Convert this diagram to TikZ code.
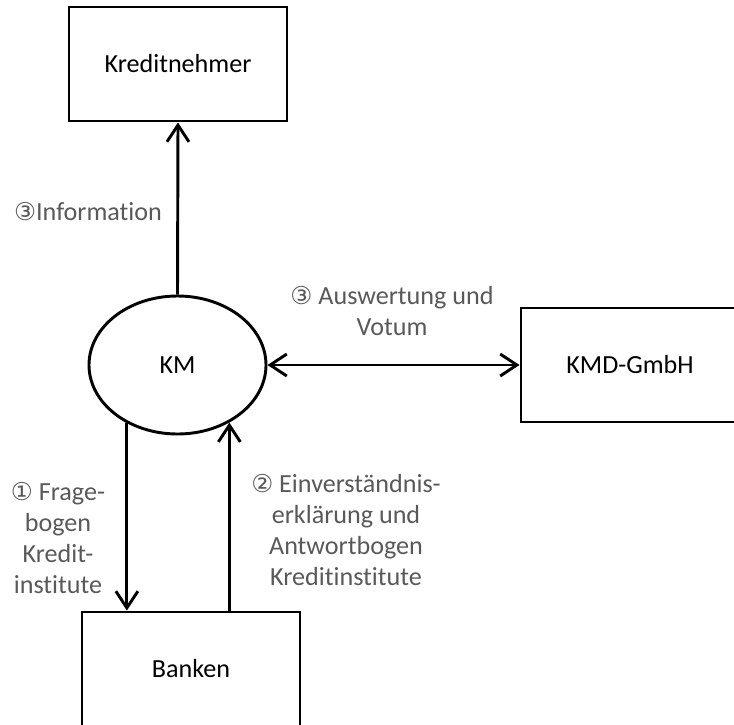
\documentclass[tikz,border=0pt]{standalone}
\usepackage{fontspec}
\setmainfont{Carlito}[Ligatures=NoCommon]
\newfontfamily\symfont{DejaVu Sans}
\usetikzlibrary{arrows.meta,shapes.geometric}
\usetikzlibrary{positioning}

\definecolor{labelgray}{HTML}{595959}
\newcommand{\circnum}[1]{{\symfont\fontsize{21}{26.5}\selectfont#1}}

\tikzset{
  box/.style={draw,rectangle,minimum width=6.54cm,minimum height=3.42cm},
  ell/.style={draw,ellipse,minimum width=5.31cm,minimum height=4.14cm,inner sep=0pt},
  lbl/.style={text=labelgray,align=center,inner sep=0pt},
  barb/.tip={Straight Barb[length=0.5cm,width=0.66cm]},
  arr/.style={-barb},
  dblarr/.style={barb-barb},
}

\begin{document}
\begin{tikzpicture}[x=0.03cm,y=-0.03cm,line width=2.5pt,
  every node/.style={font=\fontsize{22.3}{26.5}\selectfont}]
\clip (0,0) rectangle (734,724);

\node[box] (kn) at (178,64) {Kreditnehmer};
\node[ell] (km) at (177.5,365) {KM};
\node[box] (kmd) at (630,365) {KMD-GmbH};
\node[box] (bk) at (191,669) {Banken};

\draw[arr](km.north)--(kn.south);
\draw[dblarr](km.east)--(kmd.west);
\draw[arr](km.229)--(km.229 |- bk.north);
\draw[arr](km.312 |- bk.north)--(km.312);

\node[lbl] (info) at (88,212) {\circnum{③}Information};
\node[lbl] (ausw) at (392,311) {\circnum{③} Auswertung und\\Votum};
\node[lbl] (frage) at (58,538) {\circnum{①} Frage-\\bogen\\Kredit-\\institute};
\node[lbl] (einv) at (346,530) {\circnum{②} Einverständnis-\\erklärung und\\Antwortbogen\\Kreditinstitute};
\end{tikzpicture}
\end{document}
